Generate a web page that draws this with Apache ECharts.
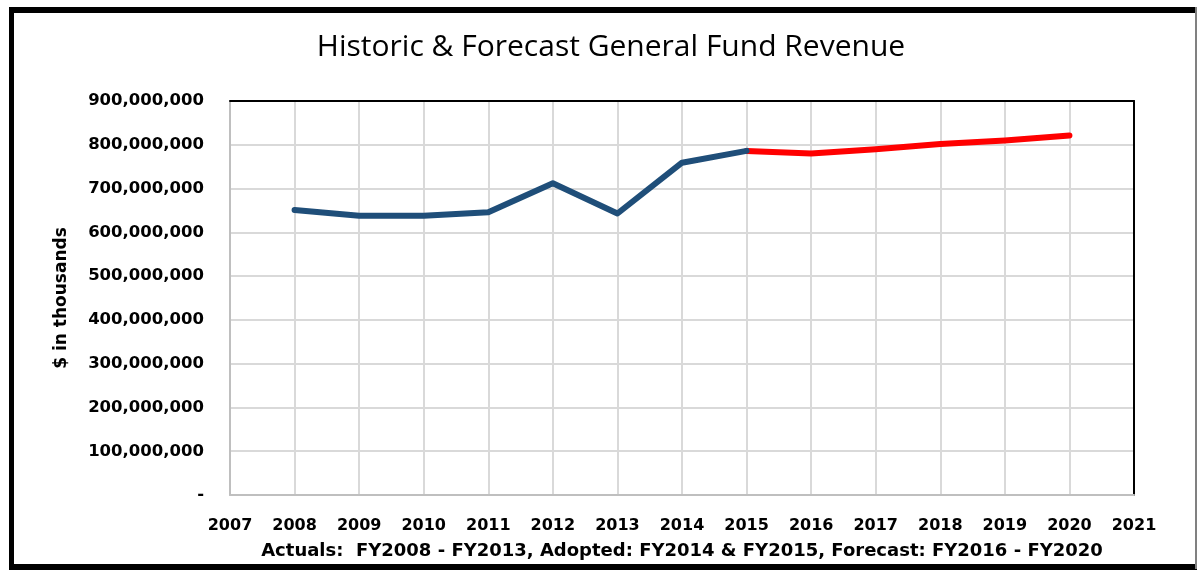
<!DOCTYPE html>
<html>
<head>
<meta charset="utf-8">
<script src="https://cdn.jsdelivr.net/npm/echarts@6/dist/echarts.min.js"></script>
<style>
html,body{margin:0;padding:0;background:#fff;}
#c{width:1197px;height:571px;}
</style>
</head>
<body>
<div id="c"></div>
<script>
const titleText = 'Historic & Forecast General Fund Revenue';
const yAxisTitle = '$ in thousands';
const footnote = 'Actuals:  FY2008 - FY2013, Adopted: FY2014 & FY2015, Forecast: FY2016 - FY2020';
const years = [2007, 2008, 2009, 2010, 2011, 2012, 2013, 2014, 2015, 2016, 2017, 2018, 2019, 2020, 2021];
const actualYears = [2008, 2009, 2010, 2011, 2012, 2013, 2014, 2015];
const actualValues = [651000000, 638000000, 638000000, 646000000, 712000000, 643000000, 759000000, 786000000];
const forecastYears = [2015, 2016, 2017, 2018, 2019, 2020];
const forecastValues = [786000000, 780000000, 790000000, 802000000, 810000000, 821000000];
const yTicks = [0, 100000000, 200000000, 300000000, 400000000, 500000000, 600000000, 700000000, 800000000, 900000000];

const chart = echarts.init(document.getElementById('c'), null, {renderer: 'canvas'});
const FONT = 'DejaVu Sans';
function fmt(v) {
  if (v === 0) return '-';
  return v.toString().replace(/\B(?=(\d{3})+(?!\d))/g, ',');
}
const option = {
  backgroundColor: '#ffffff',
  animation: false,
  title: {
    text: titleText,
    left: 606, top: 27, textAlign: 'center',
    textStyle: {fontFamily: 'Open Sans', fontWeight: 'normal', fontSize: 30, color: '#000'}
  },
  grid: {left: 230, right: 63, top: 101, bottom: 76, containLabel: false},
  xAxis: [{
    type: 'value', min: years[0], max: years[years.length - 1], interval: 1,
    axisLine: {show: true, lineStyle: {color: '#bfbfbf', width: 2}},
    axisTick: {show: false},
    splitLine: {show: true, lineStyle: {color: '#d9d9d9', width: 2}},
    axisLabel: {margin: 23, fontFamily: FONT, fontWeight: 'bold', fontSize: 16, color: '#000',
      formatter: v => String(v)},
    name: footnote, nameLocation: 'middle', nameGap: 47,
    nameTextStyle: {fontFamily: FONT, fontWeight: 'bold', fontSize: 18, color: '#000'}
  }, {
    type: 'value', position: 'top', min: years[0], max: years[years.length - 1], interval: 1,
    axisLine: {show: true, onZero: false, lineStyle: {color: '#000', width: 2}},
    axisTick: {show: false}, axisLabel: {show: false}, splitLine: {show: false}
  }],
  yAxis: [{
    type: 'value', min: yTicks[0], max: yTicks[yTicks.length - 1], interval: 100000000,
    axisLine: {show: true, lineStyle: {color: '#bfbfbf', width: 2}},
    axisTick: {show: false},
    splitLine: {show: true, lineStyle: {color: '#d9d9d9', width: 2}},
    axisLabel: {margin: 26, fontFamily: FONT, fontWeight: 'bold', fontSize: 16.5, color: '#000', formatter: fmt},
    name: yAxisTitle, nameLocation: 'middle', nameGap: 160, nameRotate: 90,
    nameTextStyle: {fontFamily: FONT, fontWeight: 'bold', fontSize: 17, color: '#000'}
  }, {
    type: 'value', position: 'right', min: yTicks[0], max: yTicks[yTicks.length - 1], interval: 100000000,
    axisLine: {show: true, onZero: false, lineStyle: {color: '#000', width: 2}},
    axisTick: {show: false}, axisLabel: {show: false}, splitLine: {show: false}
  }],
  series: [{
    name: 'Actual', type: 'line', xAxisIndex: 0, yAxisIndex: 0,
    data: actualYears.map((y, i) => [y, actualValues[i]]),
    showSymbol: false, symbol: 'none',
    lineStyle: {color: '#1F4E79', width: 6, cap: 'round', join: 'round'},
    z: 3
  }, {
    name: 'Forecast', type: 'line', xAxisIndex: 0, yAxisIndex: 0,
    data: forecastYears.map((y, i) => [y, forecastValues[i]]),
    showSymbol: false, symbol: 'none',
    lineStyle: {color: '#FF0000', width: 6, cap: 'round', join: 'round'},
    z: 2
  }],
  graphic: [
    {type: 'rect', shape: {x: 9, y: 7, width: 5, height: 562}, style: {fill: '#000'}},
    {type: 'rect', shape: {x: 9, y: 7, width: 1188, height: 6}, style: {fill: '#000'}},
    {type: 'rect', shape: {x: 9, y: 564, width: 1188, height: 6}, style: {fill: '#000'}},
    {type: 'rect', shape: {x: 1195, y: 7, width: 2, height: 562}, style: {fill: '#808080'}}
  ]
};
chart.setOption(option);
</script>
</body>
</html>
